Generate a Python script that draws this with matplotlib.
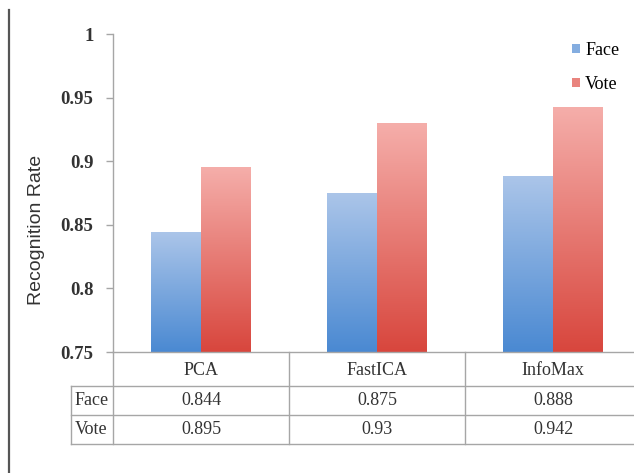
import numpy as np
import matplotlib.pyplot as plt
import matplotlib.transforms as mtransforms
from matplotlib.colors import LinearSegmentedColormap
from matplotlib.patches import Patch
from matplotlib.lines import Line2D

# data
methods = ['PCA', 'FastICA', 'InfoMax']
series = ['Face', 'Vote']
face = [0.844, 0.875, 0.888]
vote = [0.895, 0.93, 0.942]
face_labels = ['0.844', '0.875', '0.888']
vote_labels = ['0.895', '0.93', '0.942']
yticks = [0.75, 0.8, 0.85, 0.9, 0.95, 1.0]
ytick_labels = ['0.75', '0.8', '0.85', '0.9', '0.95', '1']

serif = 'Liberation Serif'
grid_col = '#a6a6a6'

# gradient colours (bottom -> top)
face_cmap = LinearSegmentedColormap.from_list('face', ['#4a89d2', '#abc5e9'])
vote_cmap = LinearSegmentedColormap.from_list('vote', ['#d8463d', '#f5aeaa'])

fig = plt.figure(figsize=(6.34, 4.73), dpi=100)
ax = fig.add_axes([113 / 634, 1 - 352 / 473, 528 / 634, 318 / 473])

x = np.arange(len(methods))
w = 0.284
ymin, ymax = 0.75, 1.0

grad = np.linspace(0, 1, 256).reshape(-1, 1)
for vals, off, cmap in [(face, -w / 2, face_cmap), (vote, w / 2, vote_cmap)]:
    bars = ax.bar(x + off, np.array(vals) - ymin, w, bottom=ymin,
                  color='none', edgecolor='none')
    for b in bars:
        x0, y0 = b.get_x(), b.get_y()
        ax.imshow(grad, cmap=cmap, origin='lower', aspect='auto',
                  extent=[x0, x0 + b.get_width(), y0, y0 + b.get_height()],
                  zorder=2)

ax.set_xlim(-0.5, 2.5)
ax.set_ylim(ymin, ymax)

ax.set_yticks(yticks)
ax.set_yticklabels(ytick_labels, fontfamily=serif, fontweight='bold',
                   fontsize=13.5, color='#333333')
ax.set_xticks([])
ax.tick_params(axis='y', direction='out', length=5, width=1, color=grid_col, pad=9)

for s in ['top', 'right']:
    ax.spines[s].set_visible(False)
for s in ['left', 'bottom']:
    ax.spines[s].set_color(grid_col)
    ax.spines[s].set_linewidth(1)

ax.set_ylabel('Recognition Rate', fontfamily='Liberation Sans', fontsize=14,
              color='#333333')
ax.yaxis.set_label_coords(-0.128, 0.384)

# data table under the plot
tr = mtransforms.blended_transform_factory(ax.transData, ax.transAxes)
h_head = 34 / 318
h_row = 29 / 318
y_head = -h_head
y_face = y_head - h_row
y_vote = y_face - h_row
x_lab = -0.5 - 42 / 176
lkw = dict(color=grid_col, lw=1, transform=tr, clip_on=False)

for yy in [y_head, y_face, y_vote]:
    ax.add_line(Line2D([x_lab, 2.5], [yy, yy], **lkw))
ax.add_line(Line2D([x_lab, x_lab], [y_head, y_vote], **lkw))
for xx in [-0.5, 0.5, 1.5, 2.5]:
    ax.add_line(Line2D([xx, xx], [0, y_vote], **lkw))

tkw = dict(transform=tr, fontfamily=serif, fontsize=13, color='#333333',
           va='center', clip_on=False)
for i, m in enumerate(methods):
    ax.text(i, y_head / 2 - 0.005, m, ha='center', **tkw)
    ax.text(i, y_head - h_row / 2, face_labels[i], ha='center', **tkw)
    ax.text(i, y_face - h_row / 2, vote_labels[i], ha='center', **tkw)
ax.text(x_lab + 0.02, y_head - h_row / 2, series[0], ha='left', **tkw)
ax.text(x_lab + 0.02, y_face - h_row / 2, series[1], ha='left', **tkw)

# legend
handles = [Patch(facecolor=face_cmap(0.6), edgecolor='none'),
           Patch(facecolor=vote_cmap(0.6), edgecolor='none')]
ax.legend(handles, series, loc='upper left', bbox_to_anchor=(563 / 634, 1 - 33 / 473),
          bbox_transform=fig.transFigure, frameon=False,
          prop={'family': serif, 'size': 13}, handlelength=0.42, handleheight=0.42,
          handletextpad=0.3, labelspacing=0.95, borderpad=0)

# left border of the original figure frame
fig.add_artist(Line2D([8.5 / 634, 8.5 / 634], [0, 1 - 10 / 473],
                      transform=fig.transFigure, color='#555555', lw=1.6))

fig.savefig('out.png', dpi=100)
